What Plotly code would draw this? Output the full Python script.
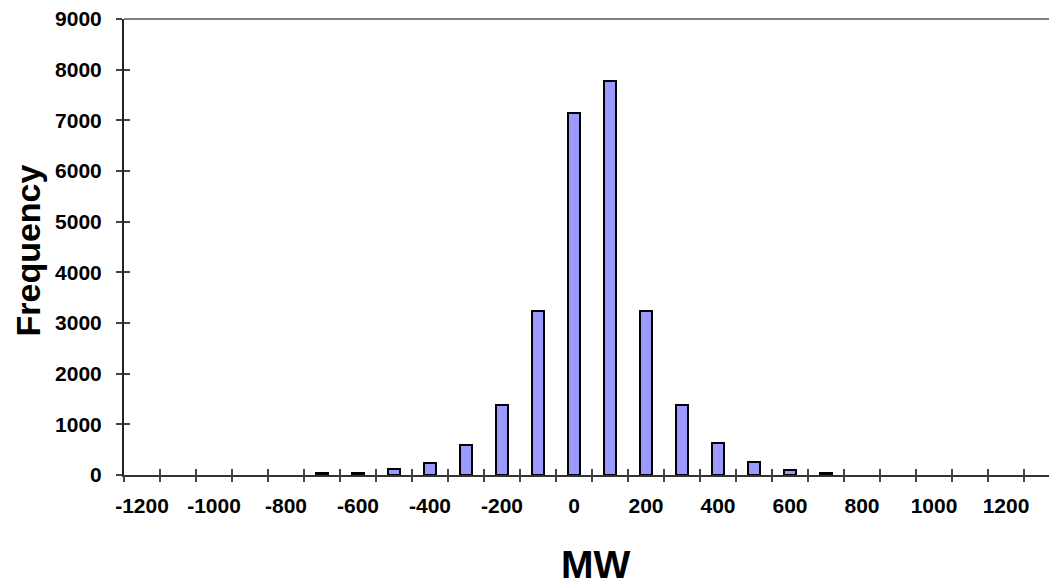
import plotly.graph_objects as go

# Data
mw_bins = [-1200, -1100, -1000, -900, -800, -700, -600, -500, -400, -300, -200, -100,
           0, 100, 200, 300, 400, 500, 600, 700, 800, 900, 1000, 1100, 1200, 1300]
frequency = [0, 0, 0, 0, 0, 35, 40, 110, 230, 590, 1377, 3235,
             7142, 7780, 3235, 1377, 632, 260, 105, 35, 0, 0, 0, 0, 0, 0]
x_tick_labels = [-1200, -1000, -800, -600, -400, -200, 0, 200, 400, 600, 800, 1000, 1200]
y_tick_values = [0, 1000, 2000, 3000, 4000, 5000, 6000, 7000, 8000, 9000]

bin_step = 100
boundaries = [b - bin_step / 2 for b in mw_bins] + [mw_bins[-1] + bin_step / 2]
# empty bins are not drawn (no outline)
bar_y = [v if v > 0 else None for v in frequency]

# the page body has an 8px margin, so figure coords = page coords - 8
OFF = 8
W, H = 1057, 586
ml, mt = 124 - OFF, 19 - OFF
mb = H - (475 - OFF)
mr = 0
plot_w = W - ml - mr
plot_h = H - mt - mb
px_per_bin = 36.0
x_lo = mw_bins[0] - bin_step / 2
x_hi = x_lo + plot_w / px_per_bin * bin_step

FONT = "Liberation Sans, Arial, sans-serif"
tickfont = dict(family=FONT, size=21, color="black", weight="bold")
TICKC = "#444444"

fig = go.Figure()
fig.add_trace(go.Bar(
    x=mw_bins, y=bar_y, width=36,
    marker=dict(color="#9999FF", line=dict(color="black", width=2)),
    showlegend=False, hoverinfo="x+y",
))
# helper invisible traces so overlay axes are drawn
fig.add_trace(go.Scatter(x=[], y=[], xaxis="x2", yaxis="y", showlegend=False))
fig.add_trace(go.Scatter(x=[], y=[], xaxis="x3", yaxis="y", showlegend=False))
fig.add_trace(go.Scatter(x=[], y=[], xaxis="x", yaxis="y2", showlegend=False))

common_off = dict(showgrid=False, zeroline=False, automargin=False, fixedrange=True)

fig.update_layout(
    template="none",
    width=W, height=H,
    margin=dict(l=ml, r=mr, t=mt, b=mb, pad=0, autoexpand=False),
    paper_bgcolor="white", plot_bgcolor="white",
    xaxis=dict(range=[x_lo, x_hi], tickmode="array", tickvals=x_tick_labels,
               ticktext=[str(v) for v in x_tick_labels], ticks="",
               tickfont=tickfont, showline=True, linecolor="#333333", linewidth=2,
               ticklabelstandoff=11, ticklabeloverflow="allow", **common_off),
    xaxis2=dict(range=[x_lo, x_hi], overlaying="x", anchor="y", side="bottom",
                tickmode="array", tickvals=boundaries, ticks="outside", ticklen=6,
                tickwidth=1.5, tickcolor=TICKC, showticklabels=False,
                showline=False, **common_off),
    xaxis3=dict(range=[x_lo, x_hi], overlaying="x", anchor="y", side="bottom",
                tickmode="array", tickvals=boundaries, ticks="inside", ticklen=6,
                tickwidth=1.5, tickcolor=TICKC, showticklabels=False,
                showline=False, **common_off),
    yaxis=dict(range=[0, 9000], tickmode="array", tickvals=y_tick_values,
               ticks="outside", ticklen=6, tickwidth=1.5, tickcolor=TICKC,
               tickfont=tickfont, showline=True, linecolor="#222222", linewidth=2,
               ticklabelstandoff=10, ticklabeloverflow="allow", **common_off),
    yaxis2=dict(range=[0, 9000], overlaying="y", anchor="x", side="left",
                tickmode="array", tickvals=y_tick_values, ticks="inside", ticklen=6,
                tickwidth=1.5, tickcolor=TICKC, showticklabels=False,
                showline=False, **common_off),
    shapes=[dict(type="line", xref="paper", yref="paper", x0=0, x1=1, y0=1, y1=1,
                 line=dict(color="#808080", width=2))],
    annotations=[
        dict(text="MW", xref="paper", yref="paper", x=(595 - OFF - ml) / plot_w,
             y=(475 - 564) / plot_h, xanchor="center", yanchor="middle",
             showarrow=False, font=dict(family=FONT, size=39, color="black", weight="bold")),
        dict(text="Frequency", xref="paper", yref="paper", x=(27 - OFF - ml) / plot_w,
             y=(475 - 250.5) / plot_h, xanchor="center", yanchor="middle",
             textangle=-90, showarrow=False,
             font=dict(family=FONT, size=34, color="black", weight="bold")),
    ],
    bargap=0,
    showlegend=False,
)

fig.write_html("out.html")
